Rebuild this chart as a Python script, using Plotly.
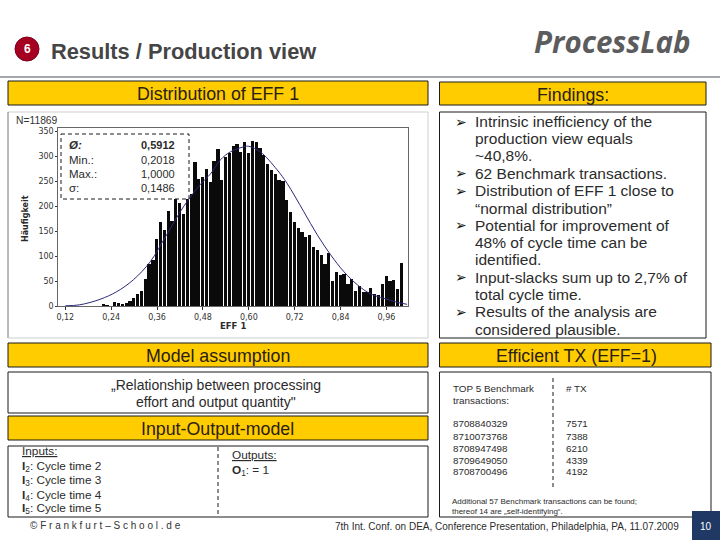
import plotly.graph_objects as go

W, H = 720, 540

# --- histogram data ---
bin_centers = [0.22, 0.23, 0.24, 0.25, 0.26, 0.27, 0.28, 0.29, 0.30, 0.31, 0.32, 0.33, 0.34, 0.35, 0.36, 0.37,
               0.38, 0.39, 0.40, 0.41, 0.42, 0.43, 0.44, 0.45, 0.46, 0.47, 0.48, 0.49, 0.50, 0.51, 0.52, 0.53,
               0.54, 0.55, 0.56, 0.57, 0.58, 0.59, 0.60, 0.61, 0.62, 0.63, 0.64, 0.65, 0.66, 0.67, 0.68, 0.69,
               0.70, 0.71, 0.72, 0.73, 0.74, 0.75, 0.76, 0.77, 0.78, 0.79, 0.80, 0.81, 0.82, 0.83, 0.84, 0.85,
               0.86, 0.87, 0.88, 0.89, 0.90, 0.91, 0.92, 0.93, 0.94, 0.95, 0.96, 0.97, 0.98, 0.99, 1.00]
counts = [4, 2, 0, 8, 6, 3, 6, 11, 16, 25, 30, 55, 84, 92, 135, 168,
          153, 190, 170, 215, 207, 185, 215, 225, 289, 255, 259, 275, 249, 291, 314, 252,
          299, 307, 321, 325, 309, 328, 307, 331, 328, 317, 303, 285, 273, 265, 253, 251,
          213, 189, 169, 157, 149, 139, 143, 119, 113, 103, 85, 107, 51, 69, 63, 65,
          45, 55, 31, 41, 29, 29, 36, 25, 23, 45, 61, 50, 53, 35, 86]

curve_x = [0.12, 0.158, 0.211, 0.254, 0.298, 0.342, 0.385, 0.429, 0.4725, 0.50, 0.526, 0.552, 0.587, 0.60,
           0.63, 0.674, 0.70, 0.744, 0.779, 0.814, 0.849, 0.884, 0.918, 0.953, 0.988, 1.014]
curve_y = [1, 3, 14, 29, 53, 89, 143, 199, 243, 265, 293, 309, 319, 320,
           309, 273, 246, 189, 143, 103, 69, 43, 25, 16, 8, 4]

x_ticks = [0.12, 0.24, 0.36, 0.48, 0.60, 0.72, 0.84, 0.96]
x_labels = ["0,12", "0,24", "0,36", "0,48", "0,60", "0,72", "0,84", "0,96"]
y_ticks = [0, 50, 100, 150, 200, 250, 300, 350]

stat_names = ["<b><i>Ø:</i></b>", "Min.:", "Max.:", "σ:"]
stat_values = ["<b>0,5912</b>", "0,2018", "1,0000", "0,1486"]

findings = ["Intrinsic inefficiency of the", "production view equals", "~40,8%.", "62 Benchmark transactions.",
            "Distribution of EFF 1 close to", "“normal distribution”", "Potential for improvement of",
            "48% of cycle time can be", "identified.", "Input-slacks sum up to 2,7% of", "total cycle time.",
            "Results of the analysis are", "considered plausible."]
findings_y = [121.5, 138.5, 156, 173, 190.5, 208, 225, 242.5, 259.5, 277, 294, 311.5, 329]
bullet_rows = [122, 173, 191, 225, 277, 312]

inputs = ["<b>I</b><sub>2</sub>: Cycle time 2", "<b>I</b><sub>3</sub>: Cycle time 3",
          "<b>I</b><sub>4</sub>: Cycle time 4", "<b>I</b><sub>5</sub>: Cycle time 5"]
tx_ids = ["8708840329", "8710073768", "8708947498", "8709649050", "8708700496"]
tx_counts = ["7571", "7388", "6210", "4339", "4192"]

SANS = "Liberation Sans"
INK = "#2b2b2b"
GOLD = "#FFCC00"
HEAD = 17.8
DASH = "4px,3px"


def px(x):
    return x / W


def py(y):
    return 1 - y / H


fig = go.Figure()
fig.add_bar(x=bin_centers, y=counts, width=0.0085, marker=dict(color="#0a0a0a", line_width=0))
fig.add_scatter(x=curve_x, y=curve_y, mode="lines", line=dict(color="#2a2a78", width=1, shape="spline"))

shapes = []
ann = []


def rect(x0, y0, x1, y1, fill="rgba(0,0,0,0)", line="#1a1a1a", lw=1, dash="solid"):
    shapes.append(dict(type="rect", xref="paper", yref="paper", x0=px(x0), x1=px(x1), y0=py(y0), y1=py(y1),
                       fillcolor=fill, line=dict(color=line, width=lw, dash=dash), layer="above"))


def line(x0, y0, x1, y1, color="#1a1a1a", lw=1, dash="solid"):
    shapes.append(dict(type="line", xref="paper", yref="paper", x0=px(x0), x1=px(x1), y0=py(y0), y1=py(y1),
                       line=dict(color=color, width=lw, dash=dash), layer="above"))


def text(x, y, s, size=12, anchor="left", color=INK, family=SANS, angle=0):
    ann.append(dict(xref="paper", yref="paper", x=px(x), y=py(y), text=s, showarrow=False, xanchor=anchor,
                    yanchor="middle", borderpad=0, textangle=angle, font=dict(size=size, color=color, family=family)))


# page frame
line(0, 77, 720, 77, "#4a5058", 1)
shapes.append(dict(type="circle", xref="paper", yref="paper", x0=px(15), x1=px(39), y0=py(61), y1=py(37),
                   fillcolor="#A50021", line=dict(color="#7d0019", width=1), layer="above"))
text(27, 49, "<b>6</b>", 12, "center", "white")
text(50, 51, "<b>Results / Production view</b>", 21.8, color="#454545")
text(533, 42, "<b><i>ProcessLab</i></b>", 29.5, color="#5c5c5e", family="Open Sans")

# headers
for x0, y0, x1, y1, label, cx in [
    (8, 81, 428, 105, "Distribution of EFF 1", 218),
    (439.5, 82, 706, 105, "Findings:", 573),
    (8, 343, 428, 367, "Model assumption", 218),
    (8, 416, 428, 440, "Input-Output-model", 218),
    (439.5, 343, 711, 367, "Efficient TX (EFF=1)", 576),
]:
    rect(x0, y0, x1, y1, GOLD)
    text(cx, (y0 + y1) / 2 + 1, label, HEAD, "center", "#2a2013")

# chart frame
line(8, 112, 428, 112, "#cfcfcf", 1)
line(8, 112, 8, 338, "#777777", 1)
line(8, 338, 428, 338, "#cfcfcf", 1)
line(428, 112, 428, 338, "#cfcfcf", 1)
text(15, 120.5, "N=11869", 10.3, color="#333333")
text(26, 218, "<b>Häufigkeit</b>", 8, "center", family="DejaVu Sans", angle=-90)
text(233, 326, "<b>EFF 1</b>", 8.5, "center", family="DejaVu Sans")

# statistic box
rect(61, 134, 189, 199, "rgba(0,0,0,0)", "#1a1a1a", 1, DASH)
for n, v, y in zip(stat_names, stat_values, [145, 160, 174, 188]):
    text(68, y, n, 11.5)
    text(176, y, v, 11, "right")

# findings
rect(439.5, 112, 706, 338, "rgba(0,0,0,0)")
for s, y in zip(findings, findings_y):
    text(474, y, s, 15.5)
for y in bullet_rows:
    text(461, y, "➢", 14, "center", family="DejaVu Sans", color="#111111")

# model assumption box
rect(8, 372, 428, 413)
text(216, 385, "„Relationship between processing", 14, "center")
text(216, 402, "effort and output quantity\"", 14, "center")

# input-output box
rect(8, 446, 428, 517)
line(218, 447, 218, 516, "#1a1a1a", 1, DASH)
text(21, 451, "<u>Inputs:</u>", 11.8)
for s, y in zip(inputs, [466, 480, 495, 509]):
    text(21, y, s, 11.8)
text(231, 455, "<u>Outputs:</u>", 11.8)
text(231, 470, "<b>O</b><sub>1</sub>: = 1", 11.8)

# efficient TX box
rect(439.5, 372, 711, 517)
line(553, 378, 553, 487, "#1a1a1a", 1, DASH)
text(452, 388, "TOP 5 Benchmark", 9.9)
text(452, 400, "transactions:", 9.9)
text(565, 388, "# TX", 9.9)
for tid, c, y in zip(tx_ids, tx_counts, [423, 436, 448, 460, 471]):
    text(452, y, tid, 9.8)
    text(565, y, c, 9.8)
text(451, 501, "Additional 57 Benchmark transactions can be found;", 8)
text(451, 511, "thereof 14 are „self-identifying“.", 8)

# footer
text(29, 525.5, "© F r a n k f u r t – S c h o o l . d e", 10, color="#333333")
text(334, 526, "7th Int. Conf. on DEA, Conference Presentation, Philadelphia, PA, 11.07.2009", 10)
rect(692, 511, 720, 540, "#1F3864", "#1F3864", 0)
text(706, 526, "10", 10, "center", "white")

fig.update_layout(
    width=W, height=H, margin=dict(l=0, r=0, t=0, b=0), paper_bgcolor="white", plot_bgcolor="white",
    showlegend=False, shapes=shapes, annotations=ann, bargap=0,
    xaxis=dict(domain=[px(58.3), px(408)], range=[0.1017, 1.0164], tickmode="array", tickvals=x_ticks,
               ticktext=x_labels, ticks="outside", ticklen=3, tickcolor="#333333", showgrid=False, zeroline=False,
               showline=True, linecolor="#666666", mirror=True, automargin=False,
               tickfont=dict(size=8, family="DejaVu Sans", color="#333333")),
    yaxis=dict(domain=[py(306.3), py(128.3)], range=[0, 356], tickmode="array", tickvals=y_ticks,
               ticks="outside", ticklen=2, tickcolor="#333333", showgrid=False, zeroline=False,
               showline=True, linecolor="#666666", mirror=True, automargin=False,
               tickfont=dict(size=8, family="DejaVu Sans", color="#333333")),
)

fig.write_html("out.html", post_script="document.body.style.margin='0';", config={"displayModeBar": False})
